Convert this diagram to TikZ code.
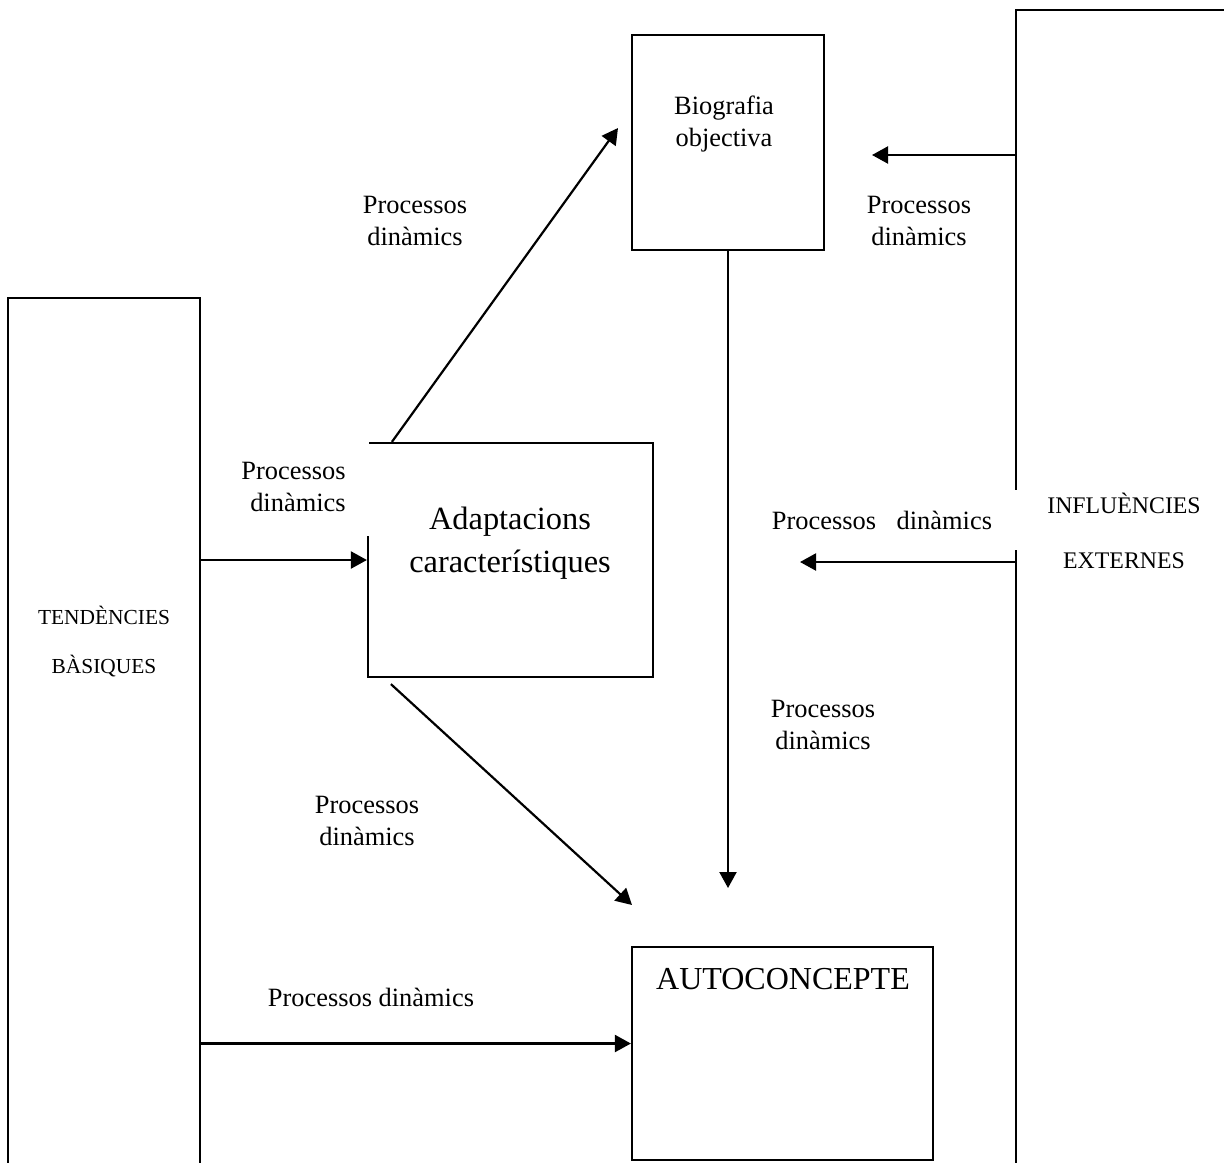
\documentclass[tikz,border=0pt]{standalone}
\usepackage{fontspec}
\setmainfont{Liberation Serif}
\usetikzlibrary{arrows.meta}
\tikzset{
  caixa/.style={draw, line width=1.1pt, inner sep=0pt},
  proc/.style={font=\fontsize{13.2}{16}\selectfont, align=center, inner sep=0pt},
  fletxa/.style={line width=1.1pt, -{Triangle[length=8pt,width=8.5pt]}}
}
\begin{document}
\begin{tikzpicture}[x=0.5pt, y=-0.5pt]
  \useasboundingbox (0,0) rectangle (1224,1162);
  \clip (0,0) rectangle (1224,1162);
  % caixes
  \node[caixa, minimum width=96pt, minimum height=451pt] (TB) at (104,749) {};
  \node[caixa, minimum width=122pt, minimum height=595pt] (IE) at (1138,605) {};
  \node[caixa, minimum width=96pt, minimum height=107.5pt] (BO) at (728,142.5) {};
  \node[caixa, minimum width=142.5pt, minimum height=117pt] (AC) at (510.5,560) {};
  \node[caixa, minimum width=150.5pt, minimum height=106.5pt] (AU) at (782.5,1053.5) {};
  % textos
  \node[align=center, font=\fontsize{10.7}{24.5}\selectfont] (TBt) at (104,642) {TENDÈNCIES\\BÀSIQUES};
  \node[align=center, font=\fontsize{11.9}{27.5}\selectfont] (IEt) at (1124,531) {INFLUÈNCIES\\EXTERNES};
  \node[proc] (BOt) at (724,124) {Biografia\\objectiva};
  \node[align=center, font=\fontsize{16.2}{21.5}\selectfont] (ACt) at (510,543) {Adaptacions\\característiques};
  \node[font=\fontsize{16}{19}\selectfont] (AUt) at (783,979) {AUTOCONCEPTE};
  % punts d'arribada
  \coordinate (c1) at (618,128);
  \coordinate (c2) at (632,905);
  \coordinate (c3) at (728,888);
  \coordinate (c4) at (872,155);
  \coordinate (c5) at (800,562);
  \path ([yshift=5pt]AU.west) coordinate (c6);
  % fletxes
  \draw[fletxa] ([xshift=12.5pt]AC.north west) -- (c1);
  \draw[fletxa] ([xshift=12pt, yshift=-3pt]AC.south west) -- (c2);
  \draw[fletxa] (BO.south) -- (c3);
  \draw[fletxa] (IE.west |- c4) -- (c4);
  \draw[fletxa] (IE.west |- c5) -- (c5);
  \draw[fletxa] (TB.east |- AC.west) -- (AC.west);
  \draw[fletxa] (TB.east |- c6) -- (c6);
  % etiquetes
  \node[proc] (p1) at (415,221) {Processos\\dinàmics};
  \node[proc] (p2) at (919,221) {Processos\\dinàmics};
  \node[proc, fill=white, align=right, anchor=north east, inner xsep=11.5pt, minimum height=49pt] (p3) at (369,438) {Processos\\dinàmics};
  \node[proc, fill=white, minimum width=136pt, minimum height=30pt] (p4) at (882,520) {Processos\hspace{7pt} dinàmics};
  \node[proc] (p5) at (823,725) {Processos\\dinàmics};
  \node[proc] (p6) at (367,821) {Processos\\dinàmics};
  \node[proc] (p7) at (371,997) {Processos dinàmics};
\end{tikzpicture}
\end{document}
